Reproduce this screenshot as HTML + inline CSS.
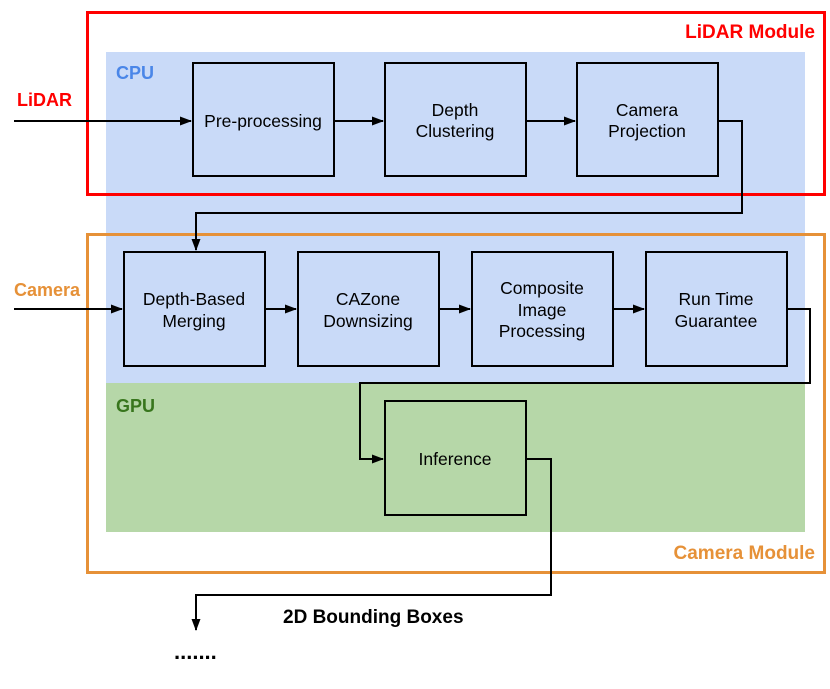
<!DOCTYPE html>
<html><head><style>
body{margin:0;background:#fff;}
svg text{font-family:"Liberation Sans",Arial,sans-serif;}
</style></head><body>
<svg width="830" height="684" viewBox="0 0 830 684" xmlns="http://www.w3.org/2000/svg">
<defs><marker id="a" markerWidth="12" markerHeight="9" refX="11" refY="4.5" orient="auto" markerUnits="userSpaceOnUse"><path d="M0,0 L12,4.5 L0,9 z" fill="#000"/></marker></defs>
<rect x="106" y="52" width="699" height="331" fill="#c9daf8"/>
<rect x="106" y="383" width="699" height="149" fill="#b6d7a8"/>
<rect x="87.5" y="12.5" width="737" height="182" fill="none" stroke="#ff0000" stroke-width="3"/>
<rect x="87.5" y="234.5" width="737" height="338" fill="none" stroke="#e69138" stroke-width="3"/>
<g fill="none" stroke="#000" stroke-width="2">
<rect x="193" y="63" width="141" height="113"/>
<rect x="385" y="63" width="141" height="113"/>
<rect x="577" y="63" width="141" height="113"/>
<rect x="124" y="252" width="141" height="114"/>
<rect x="298" y="252" width="141" height="114"/>
<rect x="472" y="252" width="141" height="114"/>
<rect x="646" y="252" width="141" height="114"/>
<rect x="385" y="401" width="141" height="114"/>
<path d="M14,121 H191" marker-end="url(#a)"/>
<path d="M334,121 H383" marker-end="url(#a)"/>
<path d="M526,121 H575" marker-end="url(#a)"/>
<path d="M718,121 H742 V213 H196 V250" marker-end="url(#a)"/>
<path d="M14,309 H122" marker-end="url(#a)"/>
<path d="M265,309 H296" marker-end="url(#a)"/>
<path d="M439,309 H470" marker-end="url(#a)"/>
<path d="M613,309 H644" marker-end="url(#a)"/>
<path d="M787,309 H810 V383 H360 V459 H383" marker-end="url(#a)"/>
<path d="M526,459 H551 V595 H196 V630" marker-end="url(#a)"/>
</g>
<g font-size="17.5" text-anchor="middle" fill="#000">
<text x="263" y="127">Pre-processing</text>
<text x="455" y="116">Depth</text><text x="455" y="137">Clustering</text>
<text x="647" y="116">Camera</text><text x="647" y="137">Projection</text>
<text x="194" y="305">Depth-Based</text><text x="194" y="327">Merging</text>
<text x="368" y="305">CAZone</text><text x="368" y="327">Downsizing</text>
<text x="542" y="294">Composite</text><text x="542" y="316">Image</text><text x="542" y="337">Processing</text>
<text x="716" y="305">Run Time</text><text x="716" y="327">Guarantee</text>
<text x="455" y="465">Inference</text>
</g>
<g font-size="18" font-weight="bold">
<text x="17" y="106" fill="#ff0000">LiDAR</text>
<text x="116" y="79" fill="#4a86e8">CPU</text>
<text x="14" y="296" fill="#e69138">Camera</text>
<text x="116" y="412" fill="#38761d">GPU</text>
</g>
<g font-size="19" font-weight="bold">
<text x="815" y="38" fill="#ff0000" text-anchor="end">LiDAR Module</text>
<text x="815" y="559" fill="#e69138" text-anchor="end">Camera Module</text>
<text x="283" y="623" fill="#000">2D Bounding Boxes</text>
<text x="174" y="659" fill="#000" font-size="22">.......</text>
</g>
</svg>
</body></html>
